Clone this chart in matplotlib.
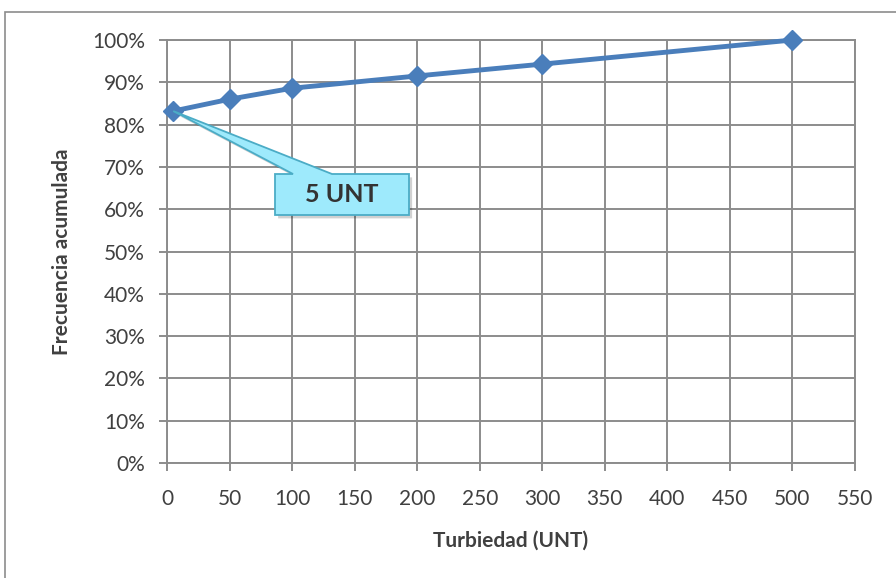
import matplotlib.pyplot as plt
from matplotlib.patches import Rectangle, Polygon
from matplotlib.ticker import PercentFormatter

plt.rcParams['font.family'] = ['Lato', 'DejaVu Sans']

turbiedad = [5, 50, 100, 200, 300, 500]
frecuencia = [0.832, 0.86, 0.886, 0.915, 0.943, 1.0]
x_ticks = list(range(0, 551, 50))
y_ticks = [i / 10 for i in range(11)]
etiqueta = "5 UNT"

fig = plt.figure(figsize=(8.96, 5.78), dpi=100)
ax = fig.add_axes([167 / 896, 1 - 463 / 578, (855 - 167) / 896, (463 - 40) / 578])

# marco exterior del grafico
fig.patches.append(Rectangle((5 / 896, -0.1), 1.2, 1.1 - 12 / 578, transform=fig.transFigure,
                             fill=False, edgecolor="#8c8c8c", linewidth=1.2))

ax.plot(turbiedad, frecuencia, color="#4a7ebb", linewidth=3.5, marker="D", markersize=10,
        markerfacecolor="#4a7ebb", markeredgecolor="#4a7ebb", zorder=5, clip_on=False)

ax.set_xlim(0, 550)
ax.set_ylim(0, 1)
ax.set_xticks(x_ticks)
ax.set_yticks(y_ticks)
ax.yaxis.set_major_formatter(PercentFormatter(1.0, decimals=0))
ax.grid(True, color="#8c8c8c", linewidth=1.4)
ax.set_axisbelow(True)
for s in ax.spines.values():
    s.set_color("#8c8c8c")
    s.set_linewidth(1.4)
ax.tick_params(direction="out", length=6, width=1.4, color="#8c8c8c",
               labelsize=15, labelcolor="#404040")
ax.tick_params(axis="y", pad=10)
ax.tick_params(axis="x", pad=13)

ax.set_xlabel("Turbiedad (UNT)", fontsize=15, fontweight="bold", color="#404040", labelpad=15)
ax.set_ylabel("Frecuencia acumulada", fontsize=15, fontweight="bold", color="#404040", labelpad=14)

# globo de texto apuntando al primer punto
def px(x, y):
    return ax.transData.inverted().transform(fig.transFigure.transform((x / 896, 1 - y / 578)))

tip = (turbiedad[0], frecuencia[0])
b0, b1, b2, b3 = px(275, 174), px(293, 174), px(332, 174), px(409, 174)
c0, c1 = px(409, 215), px(275, 215)
pts = [b0, b1, tip, b2, b3, c0, c1]
shadow = Polygon([(p[0] + 2.5, p[1] - 0.008) for p in pts], closed=True, facecolor="#000000",
                 alpha=0.18, edgecolor="none", zorder=6)
ax.add_patch(shadow)
ax.add_patch(Polygon(pts, closed=True, facecolor="#9eeafc", edgecolor="#4bacc6",
                     linewidth=1.3, zorder=7, clip_on=False))
cx, cy = px(342, 195)
ax.text(cx, cy, etiqueta, fontsize=18, fontweight="bold", color="#333333",
        ha="center", va="center", zorder=8)

fig.savefig("out.png", dpi=100)
